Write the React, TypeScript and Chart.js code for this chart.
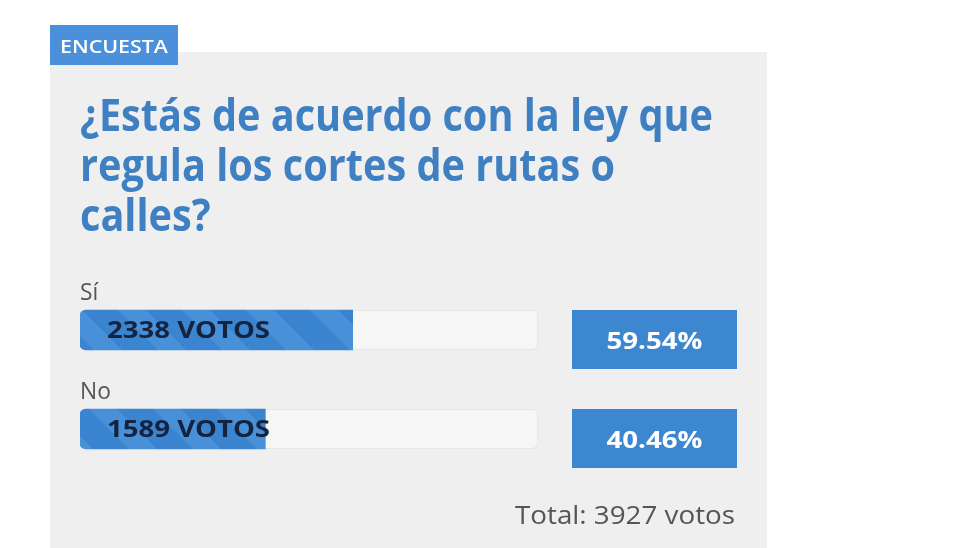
import React, { useEffect, useRef } from "react";
import { Chart, registerables } from "chart.js";
Chart.register(...registerables);

// ---- data ----
const tagLabel = "ENCUESTA";
const titleLines = ["¿Estás de acuerdo con la ley que", "regula los cortes de rutas o", "calles?"];
const answers = ["Sí", "No"];
const votes = [2338, 1589];
const totalVotes = 3927;
const voteSuffix = "VOTOS";
const totalWord = "Total:";
const votesWord = "votos";

const BLUE = "#3d87d1";
const TITLE_BLUE = "#3f80c2";

function drawFit(ctx: CanvasRenderingContext2D, text: string, x: number, y: number, sx: number, align: "left" | "center" | "right") {
  const w = ctx.measureText(text).width * sx;
  let x0 = x;
  if (align === "center") x0 = x - w / 2;
  if (align === "right") x0 = x - w;
  ctx.save();
  ctx.translate(x0, y);
  ctx.scale(sx, 1);
  ctx.textAlign = "left";
  ctx.textBaseline = "alphabetic";
  ctx.fillText(text, 0, 0);
  ctx.restore();
}

function makePattern(): CanvasPattern | string {
  const c = document.createElement("canvas");
  c.width = 64;
  c.height = 64;
  const g = c.getContext("2d");
  if (!g) return BLUE;
  g.fillStyle = "#3b85d0";
  g.fillRect(0, 0, 64, 64);
  g.fillStyle = "#4891d9";
  for (let k = -2; k < 3; k++) {
    g.beginPath();
    const o = k * 64;
    g.moveTo(o, 0);
    g.lineTo(o + 28, 0);
    g.lineTo(o + 28 + 64, 64);
    g.lineTo(o + 64, 64);
    g.closePath();
    g.fill();
  }
  const p = g.createPattern(c, "repeat");
  return p || BLUE;
}

const pollPlugin = {
  id: "pollPlugin",
  beforeDraw(chart: any) {
    const ctx: CanvasRenderingContext2D = chart.ctx;
    ctx.save();
    ctx.fillStyle = "#ffffff";
    ctx.fillRect(0, 0, chart.width, chart.height);
    // panel
    ctx.fillStyle = "#efefef";
    ctx.fillRect(50, 52, 717, 496);
    // tag
    ctx.fillStyle = "#4a90da";
    ctx.fillRect(50, 25, 128, 40);
    ctx.fillStyle = "#ffffff";
    ctx.font = "600 18px 'Open Sans'";
    drawFit(ctx, tagLabel, 60, 53, 108 / ctx.measureText(tagLabel).width, "left");
    // title
    ctx.fillStyle = TITLE_BLUE;
    ctx.font = "bold 44px 'Open Sans'";
    const sx = 633 / ctx.measureText(titleLines[0]).width;
    titleLines.forEach((line, i) => drawFit(ctx, line, 80, 131 + i * 50, sx, "left"));
    // answer labels
    const meta = chart.getDatasetMeta(1);
    ctx.fillStyle = "#555555";
    ctx.font = "24px 'Open Sans'";
    meta.data.forEach((bar: any, i: number) => {
      drawFit(ctx, answers[i], 80, bar.y - 30, 0.95, "left");
    });
    ctx.restore();
  },
  afterDatasetsDraw(chart: any) {
    const ctx: CanvasRenderingContext2D = chart.ctx;
    const meta = chart.getDatasetMeta(1);
    ctx.save();
    ctx.font = "bold 23px 'Open Sans'";
    const vsx = 163 / ctx.measureText(`${votes[0]} ${voteSuffix}`).width;
    meta.data.forEach((bar: any, i: number) => {
      const left = Math.min(bar.x, bar.base);
      ctx.fillStyle = "#15233f";
      ctx.font = "bold 23px 'Open Sans'";
      drawFit(ctx, `${votes[i]} ${voteSuffix}`, left + 27, bar.y + 8, vsx, "left");
      // percent box
      const top = bar.y - 20;
      ctx.fillStyle = BLUE;
      ctx.fillRect(572, top, 165, 59);
      ctx.fillStyle = "#ffffff";
      ctx.font = "bold 24px 'Open Sans'";
      const pct = ((votes[i] / totalVotes) * 100).toFixed(2) + "%";
      const psx = 96 / ctx.measureText("59.54%").width;
      drawFit(ctx, pct, 654.5, top + 39, psx, "center");
    });
    ctx.fillStyle = "#555555";
    ctx.font = "26px 'Open Sans'";
    const tl = `${totalWord} ${totalVotes} ${votesWord}`;
    drawFit(ctx, tl, 735, 524, 220 / ctx.measureText(tl).width, "right");
    ctx.restore();
  },
};

export default function App() {
  const ref = useRef<HTMLCanvasElement | null>(null);
  useEffect(() => {
    if (!ref.current) return;
    const fill = makePattern();
    const chart = new Chart(ref.current, {
      type: "bar",
      data: {
        labels: answers,
        datasets: [
          {
            label: "track",
            data: answers.map(() => totalVotes),
            backgroundColor: "#f6f6f6",
            borderColor: "#e2e2e2",
            borderWidth: 1,
            borderSkipped: false,
            borderRadius: 6,
            order: 2,
          },
          {
            label: "votos",
            data: votes,
            backgroundColor: fill as any,
            borderWidth: 0,
            borderSkipped: false,
            borderRadius: { topLeft: 6, bottomLeft: 6, topRight: 0, bottomRight: 0 },
            order: 1,
          },
        ],
      },
      options: {
        indexAxis: "y",
        responsive: false,
        animation: false,
        devicePixelRatio: 1,
        layout: { padding: { left: 80, right: 422, top: 280.5, bottom: 69.5 } },
        datasets: { bar: { grouped: false, barThickness: 40 } },
        scales: {
          x: { display: false, min: 0, max: totalVotes },
          y: { display: false },
        },
        plugins: { legend: { display: false }, tooltip: { enabled: false }, title: { display: false } },
      },
      plugins: [pollPlugin],
    } as any);
    return () => chart.destroy();
  }, []);
  return (
    <div style={{ position: "fixed", left: 0, top: 0, width: 960, height: 548, background: "#fff" }}>
      <canvas ref={ref} width={960} height={548} style={{ display: "block", width: 960, height: 548 }} />
    </div>
  );
}
